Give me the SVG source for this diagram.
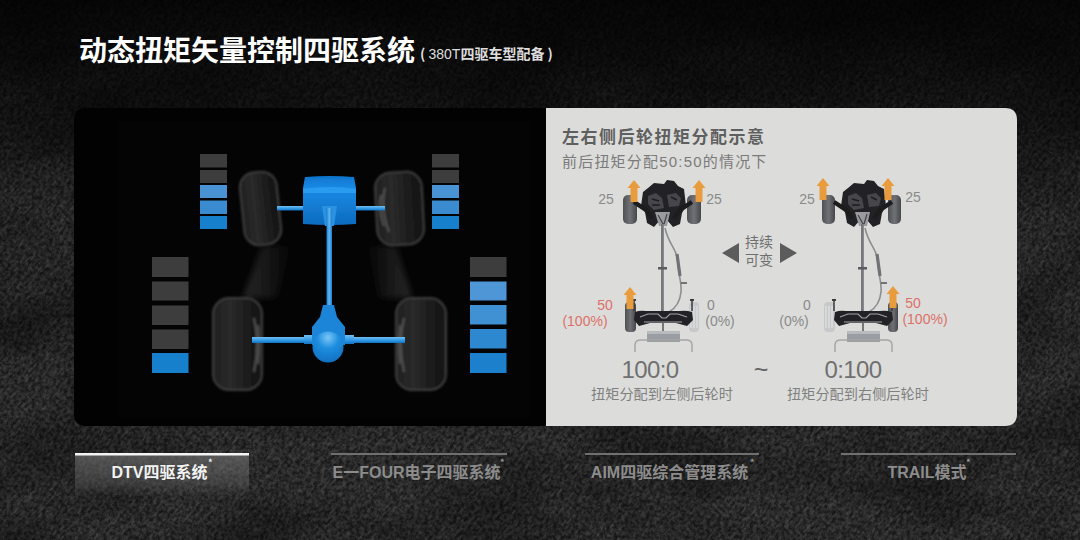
<svg xmlns="http://www.w3.org/2000/svg" xmlns:xlink="http://www.w3.org/1999/xlink" width="1080" height="540" viewBox="0 0 1080 540">
<style>
text{font-family:"Noto Sans CJK SC","Liberation Sans",sans-serif}
.l{font-family:"Liberation Sans","Noto Sans CJK SC",sans-serif}
.g{fill:#8a8a8a;font-size:14px}
.r{fill:#dc7068;font-size:14px}
.tab{font-size:16px;font-weight:700;text-anchor:middle;fill:#8c8c8c}
.star{font-size:9px;font-weight:700;fill:#9a9a9a}
.cap{font-size:14.200px;fill:#808080;text-anchor:middle}
.ratio{font-size:24px;fill:#707070;text-anchor:middle;letter-spacing:-.6px}
.off{fill:#3d3d3d}
.tf{fill:url(#tyreF);stroke:#3c3c3c;stroke-width:2}
.ar{fill:#e89c3c}
.axle{fill:url(#axleG)}
.frame{fill:#222326}
</style>
<defs>
<filter id="rock" x="0" y="0" width="100%" height="100%">
<feTurbulence type="fractalNoise" baseFrequency="0.09 0.55" numOctaves="3" seed="7"/>
<feColorMatrix type="matrix" values="0 0 0 0 1 0 0 0 0 1 0 0 0 0 1 2.600 0 0 0 -0.95"/>
</filter>
<filter id="grain" x="0" y="0" width="100%" height="100%">
<feTurbulence type="fractalNoise" baseFrequency="0.28" numOctaves="3" seed="3"/>
<feColorMatrix type="matrix" values="0 0 0 0 0 0 0 0 0 0 0 0 0 0 0 2.600 0 0 0 -0.9"/>
</filter>
<filter id="cloud" x="0" y="0" width="100%" height="100%">
<feTurbulence type="fractalNoise" baseFrequency="0.007 0.014" numOctaves="3" seed="11"/>
<feColorMatrix type="matrix" values="0 0 0 0 0 0 0 0 0 0 0 0 0 0 0 1.600 0 0 0 -0.62"/>
</filter>
<filter id="soft"><feGaussianBlur stdDeviation="0.45"/></filter>
<filter id="soft1"><feGaussianBlur stdDeviation="0.8"/></filter>
<filter id="soft2"><feGaussianBlur stdDeviation="3"/></filter>
<linearGradient id="top" x1="0" y1="0" x2="0" y2="1">
<stop offset="0" stop-color="#000" stop-opacity=".85"/>
<stop offset=".16" stop-color="#000" stop-opacity=".62"/>
<stop offset=".4" stop-color="#000" stop-opacity=".1"/>
<stop offset="1" stop-color="#000" stop-opacity="0"/>
</linearGradient>
<linearGradient id="tabbg" x1="0" y1="0" x2="0" y2="1">
<stop offset="0" stop-color="#777" stop-opacity=".62"/>
<stop offset=".7" stop-color="#666" stop-opacity=".4"/>
<stop offset="1" stop-color="#555" stop-opacity=".08"/>
</linearGradient>
<linearGradient id="blue" x1="0" y1="0" x2="0" y2="1">
<stop offset="0" stop-color="#0f74cc"/><stop offset=".25" stop-color="#1a8be6"/><stop offset="1" stop-color="#0d6bbe"/>
</linearGradient>
<linearGradient id="axleG" x1="0" y1="0" x2="0" y2="1">
<stop offset="0" stop-color="#72bdf0"/><stop offset=".6" stop-color="#2e97e4"/><stop offset="1" stop-color="#1372c4"/>
</linearGradient>
<linearGradient id="shaftG" x1="0" y1="0" x2="1" y2="0">
<stop offset="0" stop-color="#1a7ed0"/><stop offset=".5" stop-color="#62b6f0"/><stop offset="1" stop-color="#1a7ed0"/>
</linearGradient>
<radialGradient id="ball" cx=".5" cy=".2" r=".85">
<stop offset="0" stop-color="#7cc6f6"/><stop offset=".4" stop-color="#1f8fe0"/><stop offset="1" stop-color="#0e6cbc"/>
</radialGradient>
<linearGradient id="tyreF" x1="0" y1="0" x2="1" y2="0">
<stop offset="0" stop-color="#202020"/><stop offset=".35" stop-color="#2a2a2a"/><stop offset=".7" stop-color="#1c1c1c"/><stop offset="1" stop-color="#131313"/>
</linearGradient>
<linearGradient id="shadeL" x1="1" y1="0" x2="0" y2="0">
<stop offset="0" stop-color="#2a2a2a" stop-opacity="0"/><stop offset="1" stop-color="#2a2a2a" stop-opacity=".95"/>
</linearGradient>
<linearGradient id="shadeR" x1="0" y1="0" x2="1" y2="0">
<stop offset="0" stop-color="#2a2a2a" stop-opacity="0"/><stop offset="1" stop-color="#2a2a2a" stop-opacity=".95"/>
</linearGradient>
<linearGradient id="rw" x1="0" y1="0" x2="1" y2="0">
<stop offset="0" stop-color="#4e5054"/><stop offset=".5" stop-color="#6f7175"/><stop offset="1" stop-color="#45474b"/>
</linearGradient>
<g id="chassis" filter="url(#soft)">
<path d="M8 8 L14 3 L24 4 L27 0 L34 1 L38 6 L44 9 L46 26 L42 33 L40 44 L33 47 L27 40 L24 46 L20 40 L14 47 L7 43 L5 32 L1 26 L3 12 Z" class="frame"/>
<path d="M-6 22 L6 30 L12 38 M52 22 L40 30 L34 38" stroke="#1b1b1d" stroke-width="4.500" fill="none"/>
<path d="M8 16 L16 13 L22 18 L24 28 L14 30 L8 24 Z M27 15 L36 13 L41 18 L39 26 L29 27 Z" fill="#46474b"/>
<path d="M12 19 L19 21 M31 17 L37 20 M12 25 L20 25" stroke="#1c1c20" stroke-width="1.500"/>
<path d="M15 32 H30 L27 46 H19 Z" fill="#9a9b9e"/>
<path d="M18 35 L23 44 M27 34 L24 44" stroke="#444" stroke-width="1.200"/>
<rect x="21" y="44" width="2.800" height="88" fill="#77787b"/>
<rect x="18" y="87" width="9" height="2.500" fill="#5a5b5e"/>
<path d="M25 48 C29 66 37 68 38 82 C38 94 42 102 41 112 C40 122 36 128 29 132" stroke="#8d8e90" stroke-width="1.600" fill="none"/>
<path d="M37 74 L40 96" stroke="#707174" stroke-width="3.200" fill="none"/>
<path d="M41 103 H47" stroke="#505154" stroke-width="1.500"/>
<path d="M-5 132 Q0 130 6 131 H40 Q46 130 52 132 L53 140 L47 146 L36 143 H10 L-1 146 L-6 140 Z" class="frame"/>
<path d="M0 137 L8 134 H18 L22 138 H26 L30 134 H38 L47 137 M4 142 H42" stroke="#a2a3a5" stroke-width="1.100" fill="none"/>
<path d="M-6 120 V131 M52 120 V131" stroke="#3a3a3c" stroke-width="1.500"/>
<path d="M-8 120 H-4 M50 120 H54" stroke="#3a3a3c" stroke-width="2"/>
<path d="M23 143 V152" stroke="#555" stroke-width="1.500"/>
<rect x="7" y="151" width="33" height="11" fill="#9a9ea2"/>
<rect x="7" y="151" width="33" height="3" fill="#b8bbbe"/>
<path d="M-5 172 V165 Q-5 160 1 160 H46 Q52 160 52 165 V172" stroke="#a5a6a8" stroke-width="1.500" fill="none"/>
</g>
<g id="up" filter="url(#soft)"><path class="ar" d="M0 -8 L6.500 0 H3.500 V14 H-3.500 V0 H-6.500 Z"/></g>
</defs>

<rect width="1080" height="540" fill="#2e2e2e"/>
<rect x="-300" y="-500" width="1700" height="1560" filter="url(#rock)" opacity=".11" transform="rotate(-50 540 270)"/>
<rect width="1080" height="540" filter="url(#grain)" opacity=".5"/>
<rect width="1080" height="540" filter="url(#cloud)" opacity=".55"/>
<rect width="1080" height="540" fill="url(#top)"/>

<g id="title">
<text x="79" y="61" font-size="28" font-weight="700" fill="#fff">动态扭矩矢量控制四驱系统</text>
<text x="420" y="59" font-size="14" font-weight="700" fill="#ddd">( <tspan class="l" font-weight="400">380T</tspan>四驱车型配备 )</text>
</g>

<g id="panel-left">
<path d="M86 108 H546 V426 H86 Q74 426 74 414 V120 Q74 108 86 108 Z" fill="#020203"/>
<rect x="118" y="122" width="412" height="296" fill="#040405"/>
<path d="M262 246 H292 L276 298 H243 Z" fill="url(#shadeL)" filter="url(#soft2)"/>
<path d="M366 246 H396 L412 298 H380 Z" fill="url(#shadeR)" filter="url(#soft2)"/>
</g>

<g id="bars" filter="url(#soft)">
<rect class="off" x="200" y="154" width="27" height="13.500"/><rect class="off" x="200" y="170" width="27" height="13"/>
<rect x="200" y="185" width="27" height="13" fill="#4a93d4"/><rect x="200" y="200.500" width="27" height="13.500" fill="#3a8bd0"/><rect x="200" y="216" width="27" height="13" fill="#1880cc"/>
<rect class="off" x="432" y="154" width="27" height="13.500"/><rect class="off" x="432" y="170" width="27" height="13"/>
<rect x="432" y="185" width="27" height="13" fill="#4a93d4"/><rect x="432" y="200.500" width="27" height="13.500" fill="#3a8bd0"/><rect x="432" y="216" width="27" height="13" fill="#1880cc"/>
<rect class="off" x="152" y="257" width="36.500" height="20"/><rect class="off" x="152" y="281.500" width="36.500" height="19"/><rect class="off" x="152" y="305.500" width="36.500" height="19.500"/><rect class="off" x="152" y="329.500" width="36.500" height="19.500"/>
<rect x="152" y="353" width="36.500" height="20" fill="#1880cc"/>
<rect class="off" x="470" y="257" width="36.500" height="20"/>
<rect x="470" y="281.500" width="36.500" height="19" fill="#5096d6"/><rect x="470" y="305" width="36.500" height="19.500" fill="#4090d4"/><rect x="470" y="329" width="36.500" height="19.500" fill="#2f88cf"/><rect x="470" y="353" width="36.500" height="20" fill="#1a80cc"/>
</g>

<g id="drivetrain">
<g id="wheels" filter="url(#soft1)">
<rect class="tf" x="242" y="172" width="37" height="73" rx="15" transform="rotate(-6 260 208)"/>
<rect class="tf" x="376" y="172" width="47" height="73" rx="16" transform="rotate(-3 399 208)"/>
<path d="M385 188 Q380 208 389 232 M381 195 Q378 210 384 226" stroke="#5c5c5c" stroke-width="1.500" fill="none"/>
<rect class="tf" x="213" y="298" width="49" height="92" rx="16"/>
<path d="M254 318 Q260 344 254 372 M258 325 Q260 344 258 364" stroke="#5c5c5c" stroke-width="1.500" fill="none"/>
<rect class="tf" x="396" y="298" width="50" height="92" rx="16"/>
<path d="M404 318 Q398 344 404 372 M400 325 Q398 344 400 364" stroke="#5c5c5c" stroke-width="1.500" fill="none"/>
</g>
<g filter="url(#soft)">
<rect class="axle" x="277" y="206" width="27" height="4.500"/>
<rect class="axle" x="355" y="206" width="30" height="4.500"/>
<path d="M305 177 Q330 175 354 177 L356 188 V224 Q330 226 303 224 V188 Z" fill="url(#blue)"/>
<path d="M303 189 Q330 185 356 189 V193 H303 Z" fill="#2a9cf0"/>
<path d="M322 206 H337 L334 226 H325 Z" fill="#2a92e2"/>
<rect x="326.500" y="208" width="5.500" height="100" fill="url(#shaftG)"/>
<rect class="axle" x="252" y="337" width="62" height="6"/>
<rect class="axle" x="344" y="337" width="61" height="6"/>
<rect class="axle" x="304" y="335" width="12" height="9"/>
<rect class="axle" x="342" y="335" width="12" height="9"/>
<path d="M323 305 H334 L337 317 L345 327 V345 H312 V327 L320 317 Z" fill="#1b85d8"/>
<circle cx="328" cy="347" r="15.500" fill="url(#ball)"/>
</g>
</g>

<g id="panel-right">
<path d="M546 108 H1005 Q1017 108 1017 120 V414 Q1017 426 1005 426 H546 Z" fill="#dcdddb"/>
<text x="562" y="143" font-size="17" font-weight="700" fill="#5f5f5f" letter-spacing="1.500">左右侧后轮扭矩分配示意</text>
<text x="562" y="167" font-size="15" fill="#7a7a7a" letter-spacing="1.200">前后扭矩分配<tspan class="l">50:50</tspan>的情况下</text>
<text x="745" y="247" font-size="14" fill="#6f6f6f">持续</text>
<text x="745" y="265" font-size="14" fill="#6f6f6f">可变</text>
<path d="M722 253 L739 243 V263 Z M797 253 L780 243 V263 Z" fill="#5c5c5c"/>
<text class="l" x="761" y="378" font-size="25" fill="#666" text-anchor="middle">~</text>
</g>

<g id="chassis-left">
<rect x="623" y="195" width="14" height="29" rx="5" fill="url(#rw)"/>
<rect x="687" y="195" width="14" height="29" rx="5" fill="url(#rw)"/>
<rect x="625" y="302" width="11" height="30" rx="4" fill="url(#rw)"/>
<rect x="689" y="302" width="10" height="30" rx="4" fill="#c6c8ca"/>
<path d="M691 306 V328 M694 306 V328 M697 306 V328" stroke="#e6e7e8" stroke-width="1"/>
<use xlink:href="#chassis" href="#chassis" x="640" y="180"/>
<use xlink:href="#up" href="#up" x="634" y="188"/>
<use xlink:href="#up" href="#up" x="699" y="188"/>
<use xlink:href="#up" href="#up" x="630" y="295"/>
<text class="l g" x="606" y="204" text-anchor="middle">25</text>
<text class="l g" x="714" y="204" text-anchor="middle">25</text>
<text class="l r" x="605" y="310" text-anchor="middle">50</text>
<text class="l r" x="585" y="326" text-anchor="middle">(100%)</text>
<text class="l g" x="711" y="310" text-anchor="middle">0</text>
<text class="l g" x="720" y="326" text-anchor="middle">(0%)</text>
<text class="l ratio" x="650" y="378">100:0</text>
<text class="cap" x="662" y="399">扭矩分配到左侧后轮时</text>
</g>

<g id="chassis-right">
<rect x="822" y="195" width="13" height="29" rx="5" fill="url(#rw)"/>
<rect x="888" y="195" width="13" height="29" rx="5" fill="url(#rw)"/>
<rect x="824" y="302" width="11" height="30" rx="4" fill="#c6c8ca"/>
<path d="M826 306 V328 M829 306 V328 M832 306 V328" stroke="#e6e7e8" stroke-width="1"/>
<rect x="888" y="302" width="10" height="30" rx="4" fill="url(#rw)"/>
<use xlink:href="#chassis" href="#chassis" x="840" y="180"/>
<use xlink:href="#up" href="#up" x="823" y="186"/>
<use xlink:href="#up" href="#up" x="888" y="186"/>
<use xlink:href="#up" href="#up" x="893" y="294"/>
<text class="l g" x="807" y="204" text-anchor="middle">25</text>
<text class="l g" x="913" y="202" text-anchor="middle">25</text>
<text class="l g" x="807" y="310" text-anchor="middle">0</text>
<text class="l g" x="794" y="326" text-anchor="middle">(0%)</text>
<text class="l r" x="913" y="308" text-anchor="middle">50</text>
<text class="l r" x="925" y="324" text-anchor="middle">(100%)</text>
<text class="l ratio" x="853" y="378">0:100</text>
<text class="cap" x="858" y="399">扭矩分配到右侧后轮时</text>
</g>

<g id="tab-dtv">
<rect x="75" y="455" width="174" height="40" fill="url(#tabbg)"/>
<rect x="75" y="453" width="174" height="2.500" fill="#f4f4f4"/>
<text class="tab" x="159.500" y="478" style="fill:#f2f2f2"><tspan class="l">DTV</tspan>四驱系统</text>
<text class="star" x="208" y="466" style="fill:#eee">*</text>
</g>
<g id="tab-efour">
<rect x="331" y="453" width="176" height="2" fill="#707070"/>
<text class="tab" x="416.500" y="478"><tspan class="l">E</tspan>一<tspan class="l">FOUR</tspan>电子四驱系统</text>
<text class="star" x="500" y="466">*</text>
</g>
<g id="tab-aim">
<rect x="585" y="453" width="174" height="2" fill="#707070"/>
<text class="tab" x="669.500" y="478"><tspan class="l">AIM</tspan>四驱综合管理系统</text>
<text class="star" x="750" y="466">*</text>
</g>
<g id="tab-trail">
<rect x="841" y="453" width="175" height="2" fill="#707070"/>
<text class="tab" x="927" y="478"><tspan class="l">TRAIL</tspan>模式</text>
<text class="star" x="966" y="466">*</text>
</g>
</svg>
